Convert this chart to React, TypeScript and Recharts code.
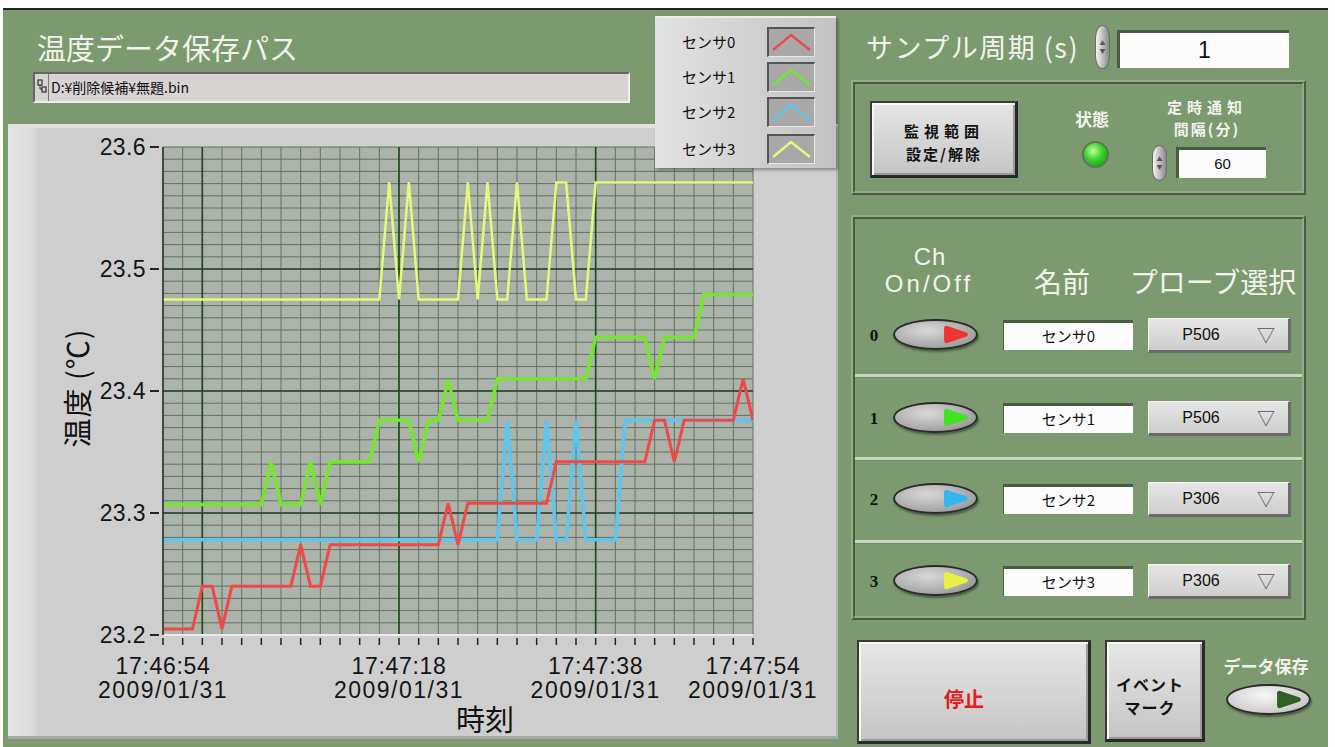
import React from 'react';
import { LineChart, Line, XAxis, YAxis, CartesianGrid, ReferenceLine } from 'recharts';

// ---------- data ----------
const seconds: number[] = Array.from({ length: 61 }, (_, i) => i);

const sensor0: number[] = [
  23.205, 23.205, 23.205, 23.205, 23.24, 23.24, 23.205, 23.24, 23.24, 23.24,
  23.24, 23.24, 23.24, 23.24, 23.274, 23.24, 23.24, 23.274, 23.274, 23.274,
  23.274, 23.274, 23.274, 23.274, 23.274, 23.274, 23.274, 23.274, 23.274, 23.308,
  23.274, 23.308, 23.308, 23.308, 23.308, 23.308, 23.308, 23.308, 23.308, 23.308,
  23.342, 23.342, 23.342, 23.342, 23.342, 23.342, 23.342, 23.342, 23.342, 23.342,
  23.376, 23.376, 23.342, 23.376, 23.376, 23.376, 23.376, 23.376, 23.376, 23.41,
  23.376,
];
const sensor1: number[] = [
  23.307, 23.307, 23.307, 23.307, 23.307, 23.307, 23.307, 23.307, 23.307, 23.307,
  23.307, 23.342, 23.307, 23.307, 23.307, 23.342, 23.307, 23.342, 23.342, 23.342,
  23.342, 23.342, 23.376, 23.376, 23.376, 23.376, 23.342, 23.376, 23.376, 23.409,
  23.376, 23.376, 23.376, 23.376, 23.41, 23.41, 23.41, 23.41, 23.41, 23.41,
  23.41, 23.41, 23.41, 23.41, 23.444, 23.444, 23.444, 23.444, 23.444, 23.444,
  23.41, 23.444, 23.444, 23.444, 23.444, 23.479, 23.479, 23.479, 23.479, 23.479,
  23.479,
];
const sensor2: number[] = [
  23.278, 23.278, 23.278, 23.278, 23.278, 23.278, 23.278, 23.278, 23.278, 23.278,
  23.278, 23.278, 23.278, 23.278, 23.278, 23.278, 23.278, 23.278, 23.278, 23.278,
  23.278, 23.278, 23.278, 23.278, 23.278, 23.278, 23.278, 23.278, 23.278, 23.278,
  23.278, 23.278, 23.278, 23.278, 23.278, 23.376, 23.278, 23.278, 23.278, 23.376,
  23.278, 23.278, 23.376, 23.278, 23.278, 23.278, 23.278, 23.376, 23.376, 23.376,
  23.376, 23.376, 23.376, 23.376, 23.376, 23.376, 23.376, 23.376, 23.376, 23.376,
  23.376,
];
const sensor3: number[] = [
  23.475, 23.475, 23.475, 23.475, 23.475, 23.475, 23.475, 23.475, 23.475, 23.475,
  23.475, 23.475, 23.475, 23.475, 23.475, 23.475, 23.475, 23.475, 23.475, 23.475,
  23.475, 23.475, 23.475, 23.571, 23.475, 23.571, 23.475, 23.475, 23.475, 23.475,
  23.475, 23.571, 23.475, 23.571, 23.475, 23.475, 23.571, 23.475, 23.475, 23.475,
  23.571, 23.571, 23.475, 23.475, 23.571, 23.571, 23.571, 23.571, 23.571, 23.571,
  23.571, 23.571, 23.571, 23.571, 23.571, 23.571, 23.571, 23.571, 23.571, 23.571,
  23.571,
];

const seriesKeys = ['s0', 's1', 's2', 's3'];
const seriesNames = ['センサ0', 'センサ1', 'センサ2', 'センサ3'];
const seriesColors = ['#f04848', '#74e62c', '#5cc6f0', '#e6fa7a'];
const seriesWidths = [3, 3.5, 3.5, 2.5];
const drawOrder = [2, 0, 1, 3];
const probes = ['P506', 'P506', 'P306', 'P306'];
const toggleColors = ['#f03434', '#44e024', '#34b4f2', '#e8f046'];

const xLabelSeconds = [0, 24, 44, 60];
const xLabelTimes = ['17:46:54', '17:47:18', '17:47:38', '17:47:54'];
const xLabelDate = '2009/01/31';
const yLabelValues = [23.2, 23.3, 23.4, 23.5, 23.6];
const yLabelTexts = ['23.2', '23.3', '23.4', '23.5', '23.6'];
const xMajorGrid = [4, 24, 44];
const yMajorGrid = [23.3, 23.4, 23.5];
const xMinorTicks: number[] = Array.from({ length: 31 }, (_, i) => i * 2);
const yMinorTicks: number[] = Array.from({ length: 41 }, (_, i) => Math.round((23.2 + i * 0.01) * 1000) / 1000);

const chartData = seconds.map((t, i) => ({ t, s0: sensor0[i], s1: sensor1[i], s2: sensor2[i], s3: sensor3[i] }));

// ---------- style constants ----------
const JP = '"Noto Sans CJK JP", "Noto Sans", sans-serif';
const LAT = '"Liberation Sans", Arial, sans-serif';
const GREEN = '#7c996f';
const TEXT_W = '#f3f3ee';

const YTick = (props: any) => {
  const { x, y, payload } = props;
  const v = payload.value as number;
  const idx = yLabelValues.findIndex((l) => Math.abs(l - v) < 1e-6);
  if (idx < 0) return <g />;
  return (
    <g>
      <text x={x - 17} y={y + 8} textAnchor="end" fontFamily={LAT} fontSize={23} fill="#141414" letterSpacing={0.4}>
        {yLabelTexts[idx]}
      </text>
      <line x1={x - 13} x2={x - 4} y1={y} y2={y} stroke="#222" strokeWidth={2} />
    </g>
  );
};

const XTick = (props: any) => {
  const { x, y, payload } = props;
  const v = payload.value as number;
  const idx = xLabelSeconds.indexOf(v);
  return (
    <g>
      <line x1={x} x2={x} y1={y + 3} y2={y + 10} stroke="#222" strokeWidth={1.5} />
      {idx >= 0 && (
        <g>
          <text x={x} y={y + 39} textAnchor="middle" fontFamily={LAT} fontSize={23} fill="#141414" letterSpacing={0.7}>
            {xLabelTimes[idx]}
          </text>
          <text x={x} y={y + 63} textAnchor="middle" fontFamily={LAT} fontSize={23} fill="#141414" letterSpacing={1.5}>
            {xLabelDate}
          </text>
        </g>
      )}
    </g>
  );
};

const abs = (left: number, top: number, extra: any = {}) => ({ position: 'absolute' as const, left, top, ...extra });

const Spinner = ({ left, top, h }: { left: number; top: number; h: number }) => (
  <div
    style={abs(left, top, {
      width: 15,
      height: h,
      boxSizing: 'border-box',
      borderRadius: '50% / 30%',
      background: 'linear-gradient(to right, #f4f4f4, #b4b4b4 60%, #8a8a8a)',
      border: '1px solid #6a6a6a',
      display: 'flex',
      flexDirection: 'column',
      alignItems: 'center',
      justifyContent: 'center',
      fontSize: 6,
      lineHeight: '8px',
      color: '#555',
    })}
  >
    <span>▲</span>
    <span>▼</span>
  </div>
);

const Toggle = ({ left, top, w, h, color, light }: any) => (
  <div
    style={abs(left, top, {
      width: w,
      height: h,
      boxSizing: 'border-box',
      borderRadius: '50%',
      border: '2px solid #2b2b2b',
      background: light
        ? 'radial-gradient(ellipse at 45% 35%, #f6f6f6, #cfcfcf 65%, #a4a4a4)'
        : 'radial-gradient(ellipse at 40% 35%, #d8d8d8, #a6a6a6 65%, #7c7c7c)',
      boxShadow: '1px 2px 2px rgba(30,40,30,0.5)',
    })}
  >
    <svg width={w} height={h} style={{ position: 'absolute', left: -2, top: -2 }}>
      <path
        d={`M ${w * 0.63} ${h * 0.3} L ${w * 0.85} ${h * 0.5} L ${w * 0.63} ${h * 0.7} Z`}
        fill={color}
        stroke={color}
        strokeWidth={5}
        strokeLinejoin="round"
      />
    </svg>
  </div>
);

const Frame = ({ left, top, w, h }: any) => (
  <div
    style={abs(left, top, {
      width: w,
      height: h,
      boxSizing: 'border-box',
      border: '4px ridge #94ad86',
    })}
  />
);

const Button = ({ left, top, w, h }: any) => (
  <div
    style={abs(left, top, {
      width: w,
      height: h,
      boxSizing: 'border-box',
      background: 'linear-gradient(to bottom, #e6e6e6, #d2d2d2 60%, #c4c4c4)',
      borderTop: '2px solid #3a3a3a',
      borderLeft: '2px solid #3a3a3a',
      borderRight: '3px solid #2a2a2a',
      borderBottom: '3px solid #2a2a2a',
      boxShadow: 'inset 2px 2px 0 #f6f6f6, inset -2px -2px 0 #9a9a9a',
    })}
  />
);

// centred single-line text
const CText = ({ x, y, size, color, bold, spacing, font, children }: any) => (
  <div
    style={abs(x, y, {
      transform: 'translate(-50%, -50%)',
      fontSize: size,
      fontWeight: bold ? 700 : 400,
      color,
      letterSpacing: spacing || 0,
      fontFamily: font || JP,
      whiteSpace: 'nowrap',
      lineHeight: 1,
    })}
  >
    {children}
  </div>
);

const rowCenters = [335, 418, 499, 581];
const separatorYs = [374, 457, 540];

export default function App() {
  return (
    <div style={{ position: 'fixed', left: 0, top: 0, width: 1335, height: 747, background: '#fdfdfd', overflow: 'hidden', fontFamily: JP }}>
      {/* green page */}
      <div style={abs(3, 8, { width: 1325, height: 739, background: GREEN, borderTop: '2px solid #1f2a1c', boxSizing: 'border-box' })} />

      {/* title & path */}
      <div style={abs(37, 28, { fontSize: 29, color: TEXT_W, lineHeight: '38px', whiteSpace: 'nowrap' })}>温度データ保存パス</div>
      <div
        style={abs(33, 72, {
          width: 597,
          height: 31,
          boxSizing: 'border-box',
          background: '#d7d3d3',
          borderTop: '2px solid #666',
          borderLeft: '2px solid #666',
          borderBottom: '2px solid #eee',
          borderRight: '2px solid #eee',
        })}
      >
        <svg width={10} height={16} style={{ position: 'absolute', left: 2, top: 5 }}>
          <rect x={1} y={1} width={4} height={5} fill="none" stroke="#333" strokeWidth={1.2} />
          <rect x={5} y={8} width={4} height={5} fill="none" stroke="#333" strokeWidth={1.2} />
          <line x1={3} y1={6} x2={3} y2={10} stroke="#333" />
          <line x1={3} y1={10} x2={5} y2={10} stroke="#333" />
        </svg>
        <div style={{ position: 'absolute', left: 13, top: 0, width: 1, height: 27, background: '#777' }} />
        <div style={abs(16, 1, { fontSize: 14, lineHeight: '24px', color: '#111', whiteSpace: 'nowrap' })}>D:¥削除候補¥無題.bin</div>
      </div>

      {/* chart panel */}
      <div
        style={abs(8, 124, {
          width: 830,
          height: 615,
          boxSizing: 'border-box',
          background: 'linear-gradient(to right, #e4e4e4 0px, #dcdcdc 24px, #cecece 30px, #cecece 100%)',
          borderTop: '4px solid #e2e2e2',
          borderBottom: '3px solid #a6a6a6',
          borderRight: '2px solid #b4b4b4',
        })}
      />

      {/* the chart */}
      <div style={abs(10, 125)}>
        <LineChart width={810} height={610} data={chartData} margin={{ top: 22, right: 67, left: 0, bottom: 0 }}>
          <CartesianGrid fill="#abb3aa" fillOpacity={1} stroke="#63725f" strokeWidth={1} />
          <XAxis
            dataKey="t"
            type="number"
            domain={[0, 60]}
            ticks={xMinorTicks}
            interval={0}
            height={100}
            tickSize={0}
            tickMargin={0}
            tick={<XTick />}
            axisLine={{ stroke: '#ececec', strokeWidth: 2 }}
            tickLine={false}
            allowDataOverflow
          />
          <YAxis
            type="number"
            domain={[23.2, 23.6]}
            ticks={yMinorTicks}
            interval={0}
            width={153}
            tickSize={0}
            tickMargin={0}
            tick={<YTick />}
            axisLine={{ stroke: '#2c2c2c', strokeWidth: 1.5 }}
            tickLine={false}
            allowDataOverflow
          />
          {xMajorGrid.map((v) => (
            <ReferenceLine key={'xm' + v} x={v} stroke="#1c4a1c" strokeWidth={1.6} ifOverflow="hidden" />
          ))}
          {yMajorGrid.map((v) => (
            <ReferenceLine key={'ym' + v} y={v} stroke="#23402a" strokeWidth={1.6} ifOverflow="hidden" />
          ))}
          {drawOrder.map((i) => (
            <Line
              key={seriesKeys[i]}
              type="linear"
              dataKey={seriesKeys[i]}
              name={seriesNames[i]}
              stroke={seriesColors[i]}
              strokeWidth={seriesWidths[i]}
              dot={false}
              activeDot={false}
              isAnimationActive={false}
            />
          ))}
        </LineChart>
      </div>

      {/* axis titles */}
      <div style={abs(76, 388, { transform: 'translate(-50%, -50%) rotate(-90deg)', fontSize: 29, color: '#111', whiteSpace: 'nowrap', letterSpacing: 1 })}>
        温度 (℃)
      </div>
      <div style={abs(485, 718, { transform: 'translate(-50%, -50%)', fontSize: 29, color: '#111', whiteSpace: 'nowrap' })}>時刻</div>

      {/* legend */}
      <div
        style={abs(655, 16, {
          width: 181,
          height: 152,
          boxSizing: 'border-box',
          background: 'linear-gradient(to right, #e2e2e2, #d2d2d2 50%, #c2c2c2)',
          borderTop: '2px solid #ececec',
          boxShadow: '2px 2px 3px rgba(0,0,0,0.35)',
        })}
      >
        {seriesNames.map((n, i) => {
          const top = [9, 44, 79, 116][i];
          return (
            <React.Fragment key={n}>
              <div style={abs(27, top, { fontSize: 15, lineHeight: '30px', color: '#111', whiteSpace: 'nowrap' })}>{n}</div>
              <div
                style={abs(112, top, {
                  width: 48,
                  height: 30,
                  boxSizing: 'border-box',
                  background: '#a8a8a8',
                  borderTop: '2px solid #555',
                  borderLeft: '2px solid #555',
                  borderBottom: '1px solid #e8e8e8',
                  borderRight: '1px solid #e8e8e8',
                })}
              >
                <svg width={45} height={27} style={{ position: 'absolute', left: 0, top: 0 }}>
                  <polyline points="4,21 22,6 41,21" fill="none" stroke={seriesColors[i]} strokeWidth={2.5} />
                </svg>
              </div>
            </React.Fragment>
          );
        })}
      </div>

      {/* ---------- right panel ---------- */}
      <div style={abs(866, 28, { fontSize: 27, color: TEXT_W, lineHeight: '38px', whiteSpace: 'nowrap', letterSpacing: 1.5 })}>サンプル周期 (s)</div>
      <Spinner left={1095} top={25} h={44} />
      <div
        style={abs(1117, 30, {
          width: 172,
          height: 38,
          boxSizing: 'border-box',
          background: '#fcfcfc',
          borderTop: '3px solid #4a5a44',
          borderLeft: '3px solid #4a5a44',
          textAlign: 'center',
          fontFamily: LAT,
          fontSize: 23,
          lineHeight: '34px',
          color: '#111',
        })}
      >
        1
      </div>

      {/* monitor frame */}
      <Frame left={851} top={80} w={455} h={115} />
      <Button left={870} top={101} w={148} h={77} />
      <CText x={944} y={130} size={15} bold spacing={5} color="#111">監視範囲</CText>
      <CText x={944} y={153} size={15} bold spacing={2} color="#111">設定/解除</CText>
      <CText x={1092} y={118} size={17} bold color={TEXT_W}>状態</CText>
      <div
        style={abs(1082, 141, {
          width: 27,
          height: 27,
          borderRadius: '50%',
          boxSizing: 'border-box',
          border: '2px solid #5d7852',
          background: 'radial-gradient(circle at 40% 35%, #c4ff9c, #38d22a 45%, #149014)',
        })}
      />
      <CText x={1207} y={106} size={15} bold spacing={5} color={TEXT_W}>定時通知</CText>
      <CText x={1207} y={128} size={15} bold spacing={2} color={TEXT_W}>間隔(分)</CText>
      <Spinner left={1152} top={145} h={36} />
      <div
        style={abs(1176, 147, {
          width: 90,
          height: 31,
          boxSizing: 'border-box',
          background: '#fcfcfc',
          borderTop: '3px solid #4a5a44',
          borderLeft: '3px solid #4a5a44',
          textAlign: 'center',
          fontFamily: LAT,
          fontSize: 15,
          lineHeight: '27px',
          color: '#111',
        })}
      >
        60
      </div>

      {/* channel frame */}
      <Frame left={851} top={215} w={455} h={405} />
      <CText x={930} y={257} size={24} color={TEXT_W} font={LAT} spacing={1}>Ch</CText>
      <CText x={929} y={284} size={24} color={TEXT_W} font={LAT} spacing={3}>On/Off</CText>
      <CText x={1062} y={281} size={28} color={TEXT_W}>名前</CText>
      <CText x={1213} y={281} size={28} color={TEXT_W}>プローブ選択</CText>

      {separatorYs.map((y) => (
        <div key={y} style={abs(855, y, { width: 447, height: 3, background: '#c9d4c2', borderBottom: '1px solid #6f8a64' })} />
      ))}

      {rowCenters.map((c, i) => (
        <React.Fragment key={i}>
          <CText x={874} y={c} size={17} bold font='"Liberation Serif", serif' color="#111">{i}</CText>
          <Toggle left={893} top={c - 16} w={85} h={31} color={toggleColors[i]} />
          <div
            style={abs(1003, c - 15, {
              width: 130,
              height: 30,
              boxSizing: 'border-box',
              background: '#fcfcfc',
              borderTop: '3px solid #4a5a44',
              borderLeft: '1px solid #4a5a44',
              textAlign: 'center',
              fontSize: 15,
              lineHeight: '26px',
              color: '#111',
            })}
          >
            {seriesNames[i]}
          </div>
          <div
            style={abs(1148, c - 17, {
              width: 143,
              height: 35,
              boxSizing: 'border-box',
              background: 'linear-gradient(to bottom, #e6e6e6, #cdcdcd)',
              borderTop: '1px solid #f4f4f4',
              borderLeft: '1px solid #f4f4f4',
              borderRight: '3px solid #6a6a6a',
              borderBottom: '3px solid #6a6a6a',
            })}
          >
            <div style={abs(12, 0, { width: 80, textAlign: 'center', fontFamily: LAT, fontSize: 16, lineHeight: '31px', color: '#111' })}>{probes[i]}</div>
            <div style={abs(108, 0, { fontSize: 18, lineHeight: '31px', color: '#555' })}>▽</div>
          </div>
        </React.Fragment>
      ))}

      {/* bottom buttons */}
      <Button left={857} top={640} w={234} h={104} />
      <CText x={964} y={699} size={20} bold color="#e41c1c">停止</CText>
      <Button left={1105} top={640} w={100} h={102} />
      <CText x={1150} y={684} size={16} bold spacing={1} color="#111">イベント</CText>
      <CText x={1150} y={707} size={16} bold spacing={1} color="#111">マーク</CText>
      <CText x={1266} y={665} size={17} bold color={TEXT_W}>データ保存</CText>
      <Toggle left={1226} top={684} w={85} h={31} color="#2f6222" light />
    </div>
  );
}
